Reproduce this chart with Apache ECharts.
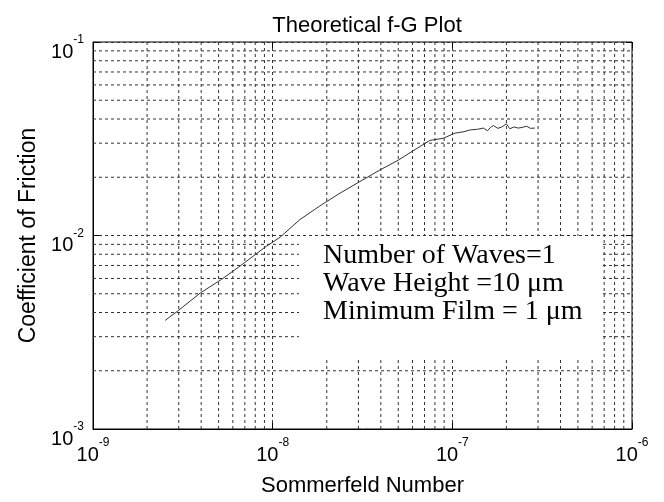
<!DOCTYPE html>
<html>
<head>
<meta charset="utf-8">
<script src="https://cdn.jsdelivr.net/npm/echarts@6/dist/echarts.min.js"></script>
<style>
  html, body { margin: 0; padding: 0; background: #fff; }
  #main { width: 664px; height: 502px; }
</style>
</head>
<body>
<div id="main"></div>
<script>
// data
const sommerfeld = [2.52e-9, 2.94e-9, 3.94e-9, 5.2e-9, 6.86e-9, 9.05e-9, 1.1e-8, 1.42e-8, 1.88e-8, 2.37e-8,
  3.06e-8, 3.95e-8, 5.0e-8, 6.2e-8, 7.5e-8, 8.9e-8, 1.035e-7, 1.16e-7, 1.25e-7, 1.38e-7,
  1.49e-7, 1.57e-7, 1.63e-7, 1.69e-7, 1.79e-7, 1.88e-7, 2.0e-7, 2.09e-7, 2.2e-7, 2.33e-7,
  2.45e-7, 2.59e-7, 2.72e-7, 2.88e-7];
const friction = [3.64e-3, 4.05e-3, 5.03e-3, 5.94e-3, 7.15e-3, 8.69e-3, 9.8e-3, 0.0121, 0.01445, 0.01655,
  0.019, 0.0218, 0.0245, 0.0278, 0.031, 0.0318, 0.0338, 0.0344, 0.0351, 0.0354,
  0.0359, 0.0348, 0.0362, 0.037, 0.0358, 0.0363, 0.0378, 0.0356, 0.0364, 0.0359,
  0.0362, 0.0367, 0.0358, 0.0359];

const xTickExps = [-9, -8, -7, -6];
const yTickExps = [-3, -2, -1];
const minorSteps = [2, 3, 4, 5, 6, 7, 8, 9];

const noteLines = ['Number of Waves=1', 'Wave Height =10 \u03bcm', 'Minimum Film = 1 \u03bcm'];

const gridStyle = { color: '#333', width: 1, type: [3, 3] };

const xMin = Math.pow(10, xTickExps[0]);
const xMax = Math.pow(10, xTickExps[xTickExps.length - 1]);
const yMin = Math.pow(10, yTickExps[0]);
const yMax = Math.pow(10, yTickExps[yTickExps.length - 1]);

// minor grid positions (2..9 per decade)
const minorX = [];
xTickExps.slice(0, -1).forEach(e => minorSteps.forEach(m => minorX.push(m * Math.pow(10, e))));
const minorY = [];
yTickExps.slice(0, -1).forEach(e => minorSteps.forEach(m => minorY.push(m * Math.pow(10, e))));

const gridSeries = minorX.map(v => [[v, yMin], [v, yMax]])
  .concat(minorY.map(v => [[xMin, v], [xMax, v]]))
  .map(pts => ({
    type: 'line',
    z: 1,
    silent: true,
    showSymbol: false,
    data: pts,
    lineStyle: gridStyle
  }));

const expLabel = v => {
  const e = Math.round(Math.log10(v));
  return '{b|10}{s|' + e + '}';
};
const labelRich = {
  b: { fontSize: 20, fontFamily: 'Liberation Sans', color: '#000', verticalAlign: 'bottom' },
  s: { fontSize: 12, fontFamily: 'Liberation Sans', color: '#000', lineHeight: 28, verticalAlign: 'top' }
};

const mirrorAxis = {
  type: 'log',
  logBase: 10,
  axisLine: { show: false },
  axisTick: { inside: true, length: 6, lineStyle: { color: '#000' } },
  axisLabel: { show: false },
  splitLine: { show: false }
};

const chart = echarts.init(document.getElementById('main'));

chart.setOption({
  animation: false,
  backgroundColor: '#fff',
  title: {
    text: 'Theoretical f-G Plot',
    left: 362,
    textAlign: 'center',
    top: 10,
    textStyle: { fontFamily: 'Liberation Sans', fontSize: 22, fontWeight: 'normal', color: '#000' }
  },
  grid: {
    left: 93, right: 32, top: 42, bottom: 68,
    show: true, borderColor: '#000', borderWidth: 1, backgroundColor: 'transparent'
  },
  xAxis: [{
    type: 'log',
    logBase: 10,
    min: xMin,
    max: xMax,
    splitNumber: 3,
    name: 'Sommerfeld Number',
    nameLocation: 'middle',
    nameGap: 46,
    nameTextStyle: { fontFamily: 'Liberation Sans', fontSize: 22, color: '#000' },
    axisLine: { lineStyle: { color: '#000', width: 1 } },
    axisTick: { inside: true, length: 6, lineStyle: { color: '#000' } },
    axisLabel: { formatter: expLabel, rich: labelRich, margin: 8 },
    splitLine: { show: true, lineStyle: gridStyle }
  }, Object.assign({}, mirrorAxis, { position: 'top', min: xMin, max: xMax, splitNumber: 3 })],
  yAxis: [{
    type: 'log',
    logBase: 10,
    min: yMin,
    max: yMax,
    splitNumber: 2,
    name: 'Coefficient of Friction',
    nameLocation: 'middle',
    nameGap: 50,
    nameTextStyle: { fontFamily: 'Liberation Sans', fontSize: 23, color: '#000' },
    axisLine: { lineStyle: { color: '#000', width: 1 } },
    axisTick: { inside: true, length: 6, lineStyle: { color: '#000' } },
    axisLabel: { formatter: expLabel, rich: labelRich, margin: 9, padding: [12, 0, 0, 0] },
    splitLine: { show: true, lineStyle: gridStyle }
  }, Object.assign({}, mirrorAxis, { position: 'right', min: yMin, max: yMax, splitNumber: 2 })],
  graphic: [
    {
      type: 'rect',
      z: 5,
      shape: { x: 299, y: 236, width: 301, height: 122 },
      style: { fill: '#fff' }
    },
    {
      type: 'text',
      z: 6,
      left: 323,
      top: 242,
      style: {
        text: noteLines.join('\n'),
        fontFamily: 'Liberation Serif',
        fontSize: 28,
        lineHeight: 28,
        fill: '#000'
      }
    }
  ],
  series: gridSeries.concat([
    {
      type: 'line',
      z: 10,
      showSymbol: false,
      data: sommerfeld.map((s, i) => [s, friction[i]]),
      lineStyle: { color: '#333', width: 1 }
    }
  ])
});
</script>
</body>
</html>
